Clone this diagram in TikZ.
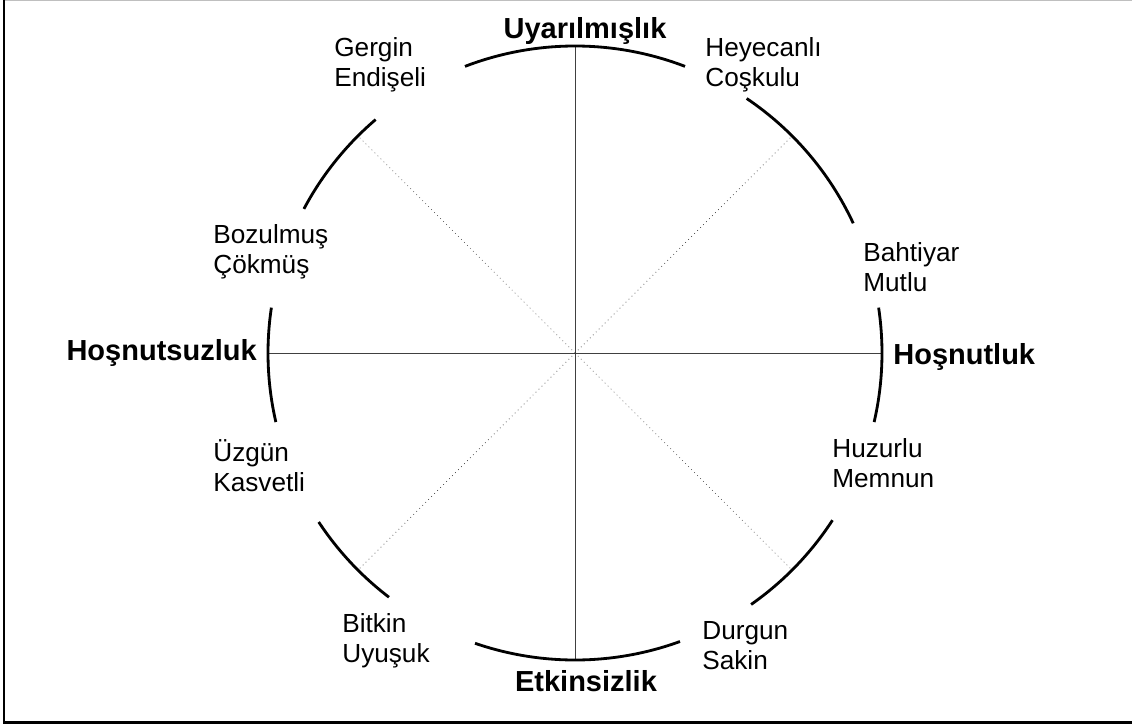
\documentclass[tikz,border=0pt]{standalone}
\usepackage{fontspec}
\setmainfont{Liberation Sans}
\usepackage{tikz}
\usetikzlibrary{calc}
\tikzset{
  cxring/.style={line width=1.6pt, draw=black},
  cxaxis/.style={line width=0.5pt, draw=black!75},
  cxdiag/.style={line width=0.4pt, draw=black!80, dotted},
  cxmood/.style={
    inner sep=0pt, align=left, anchor=west,
    font=\fontsize{14.9}{17.1}\selectfont
  },
  cxpole/.style={inner sep=0pt, font=\fontsize{16.5}{19}\selectfont\bfseries},
  cxframe/.style={line width=1.2pt, draw=black},
}

\begin{document}
\begin{tikzpicture}
  \def\R{6.14}
  \useasboundingbox (-11.5,7.06) rectangle (11.14,-7.46);
  % frame
  \coordinate (fTL) at (-11.42,7.05);
  \coordinate (fBL) at (-11.42,-7.39);
  \coordinate (fBR) at (11.3,-7.39);
  \coordinate (fTR) at (11.3,7.05);
  \draw[draw=black!25, line width=0.8pt] (fTL) -- (fTR);
  \draw[cxframe] (fTL) -- (fBL) -- (fBR);

  \coordinate (O) at (0,0);
  % axes
  \draw[cxaxis] (O) ++(90:\R) coordinate (up) -- ($(O)+(-90:\R)$) coordinate (down);
  \draw[cxaxis] (O) ++(180:\R) coordinate (lt) -- ($(O)+(0:\R)$) coordinate (rt);
  \foreach \a in {45,135,225,315}
    \draw[cxdiag] (O) -- ($(O)+(\a:\R)$);
  % ring segments
  \foreach \a/\b in {69/111, 25/56, -13/8.5, -55/-33, -109/-70,
                     -146.6/-127.3, 171.5/193, 130.5/152}
    \draw[cxring] (O) ++(\a:\R) arc[start angle=\a, end angle=\b, radius=\R];

  % poles
  \node (arousal) [cxpole] at (0.20,6.44) {Uyarılmışlık};
  \node (pleasure) [cxpole, anchor=west] at (6.36,-0.08) {Hoşnutluk};
  \node (inactive) [cxpole] at (0.22,-6.56) {Etkinsizlik};
  \node (displeasure) [cxpole, anchor=east] at (-6.36,0) {Hoşnutsuzluk};

  % moods
  \node (tense) [cxmood] at (-4.82,5.76) {Gergin\\Endişeli};
  \node (excited) [cxmood] at (2.60,5.76) {Heyecanlı\\Coşkulu};
  \node (happy) [cxmood] at (5.76,1.72) {Bahtiyar\\Mutlu};
  \node (content) [cxmood] at (5.14,-2.20) {Huzurlu\\Memnun};
  \node (calm) [cxmood] at (2.54,-5.86) {Durgun\\Sakin};
  \node (tired) [cxmood] at (-4.66,-5.76) {Bitkin\\Uyuşuk};
  \node (sad) [cxmood] at (-7.24,-2.26) {Üzgün\\Kasvetli};
  \node (upset) [cxmood] at (-7.24,2.02) {Bozulmuş\\Çökmüş};
\end{tikzpicture}
\end{document}
